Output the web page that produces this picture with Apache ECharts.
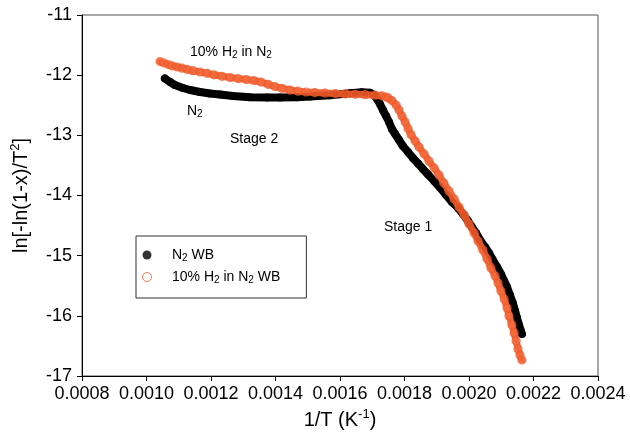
<!DOCTYPE html>
<html><head><meta charset="utf-8">
<script src="https://cdn.jsdelivr.net/npm/echarts@6/dist/echarts.min.js"></script>
<style>html,body{margin:0;padding:0;background:#fff}#c{width:630px;height:439px}</style>
</head><body><div id="c"></div>
<script>
// ---- data ----
const seriesNames = ['N2 WB', '10% H2 in N2 WB'];
const xTickLabels = ['0.0008','0.0010','0.0012','0.0014','0.0016','0.0018','0.0020','0.0022','0.0024'];
const yTickLabels = ['-17','-16','-15','-14','-13','-12','-11'];
const annotations = ['10% H{sub|2} in N{sub|2}', 'N{sub|2}', 'Stage 2', 'Stage 1'];

const n2X = [0.001057,0.001073,0.001088,0.001113,0.001135,0.001166,0.001197,0.001228,0.001268,0.001321,
  0.001374,0.001414,0.001467,0.001507,0.001569,0.001631,0.001668,0.001693,0.001705,0.001715,
  0.001724,0.001733,0.001743,0.001752,0.001761,0.001771,0.001783,0.001795,0.001811,0.001826,
  0.001842,0.001857,0.001873,0.001892,0.001910,0.001929,0.001947,0.001966,0.001981,0.001997,
  0.002009,0.002022,0.002034,0.002050,0.002062,0.002074,0.002087,0.002099,0.002109,0.002118,
  0.002127,0.002136,0.002143,0.002149,0.002155,0.002161,0.002164];
const n2Y = [-12.055,-12.114,-12.163,-12.213,-12.247,-12.280,-12.305,-12.321,-12.346,-12.366,
  -12.373,-12.373,-12.366,-12.356,-12.333,-12.301,-12.285,-12.293,-12.330,-12.396,
  -12.479,-12.579,-12.679,-12.778,-12.895,-12.978,-13.077,-13.177,-13.277,-13.377,
  -13.468,-13.559,-13.651,-13.759,-13.867,-13.992,-14.108,-14.208,-14.307,-14.424,
  -14.523,-14.623,-14.739,-14.856,-14.955,-15.072,-15.188,-15.304,-15.421,-15.521,
  -15.654,-15.787,-15.920,-16.036,-16.152,-16.252,-16.302];

const h2X = [0.001042,0.001054,0.001067,0.001079,0.001095,0.001110,0.001126,0.001144,0.001166,0.001188,
  0.001209,0.001234,0.001259,0.001284,0.001309,0.001333,0.001355,0.001377,0.001398,0.001420,
  0.001445,0.001470,0.001495,0.001522,0.001553,0.001585,0.001616,0.001647,0.001678,0.001709,
  0.001730,0.001743,0.001749,0.001761,0.001774,0.001783,0.001792,0.001802,0.001811,0.001820,
  0.001833,0.001845,0.001861,0.001876,0.001892,0.001907,0.001922,0.001938,0.001954,0.001969,
  0.001985,0.002000,0.002016,0.002028,0.002043,0.002056,0.002068,0.002081,0.002090,0.002099,
  0.002109,0.002118,0.002124,0.002133,0.002140,0.002146,0.002152,0.002158,0.002164];
const h2Y = [-11.773,-11.798,-11.823,-11.844,-11.864,-11.884,-11.904,-11.926,-11.947,-11.969,
  -11.994,-12.019,-12.039,-12.057,-12.072,-12.089,-12.114,-12.152,-12.188,-12.218,
  -12.247,-12.266,-12.280,-12.290,-12.298,-12.305,-12.311,-12.318,-12.325,-12.333,
  -12.343,-12.363,-12.376,-12.421,-12.496,-12.579,-12.679,-12.778,-12.886,-12.986,
  -13.094,-13.194,-13.310,-13.427,-13.543,-13.659,-13.792,-13.925,-14.058,-14.191,
  -14.324,-14.474,-14.623,-14.756,-14.906,-15.055,-15.205,-15.338,-15.454,-15.587,
  -15.720,-15.870,-16.003,-16.152,-16.285,-16.418,-16.551,-16.651,-16.734];

// ---- chart ----
const FONT = "'Liberation Sans', Arial, Helvetica, sans-serif";
const ORANGE = '#F15A29';
const pairs = (xs, ys) => xs.map((x, i) => [x, ys[i]]);
const n2Data = pairs(n2X, n2Y);
const h2Data = pairs(h2X, h2Y);
const toRich = s => s.replace(/H2/g, 'H{sub|2}').replace(/N2/g, 'N{sub|2}');
const subRich = { sub: { fontSize: 10, lineHeight: 8, verticalAlign: 'bottom', fontFamily: FONT, color: '#000' } };
const supRich = { sup: { fontSize: 13, lineHeight: 13, verticalAlign: 'top', fontFamily: FONT, color: '#000' } };

const chart = echarts.init(document.getElementById('c'), null, { renderer: 'canvas' });
const option = {
  animation: false,
  backgroundColor: '#fff',
  textStyle: { fontFamily: FONT },
  grid: { left: 82, right: 32, top: 15, bottom: 63, show: true, borderColor: '#555', borderWidth: 1 },
  xAxis: {
    type: 'value', min: 0.0008, max: 0.0024, interval: 0.0002,
    name: '1/T (K{sup|-1})', nameLocation: 'middle', nameGap: 32,
    nameTextStyle: { fontSize: 20, color: '#000', fontFamily: FONT, lineHeight: 24, rich: supRich },
    axisLine: { show: true, lineStyle: { color: '#000', width: 1 } },
    axisTick: { show: true, inside: false, length: 5, lineStyle: { color: '#000' } },
    axisLabel: { fontSize: 18, color: '#000', fontFamily: FONT, margin: 9,
      formatter: v => xTickLabels[Math.round((v - 0.0008) / 0.0002)] },
    splitLine: { show: false }
  },
  yAxis: {
    type: 'value', min: -17, max: -11, interval: 1,
    name: 'ln[-ln(1-x)/T{sup|2}]', nameLocation: 'middle', nameGap: 49, nameRotate: 90,
    nameTextStyle: { fontSize: 20, color: '#000', fontFamily: FONT, lineHeight: 24, rich: supRich },
    axisLine: { show: true, lineStyle: { color: '#000', width: 1 } },
    axisTick: { show: true, inside: false, length: 5, lineStyle: { color: '#000' } },
    axisLabel: { fontSize: 18, color: '#000', fontFamily: FONT, margin: 10,
      formatter: v => yTickLabels[Math.round(v + 17)] },
    splitLine: { show: false }
  },
  legend: {
    orient: 'vertical', left: 136, top: 236, padding: [11, 26, 13, 6],
    itemWidth: 40, itemHeight: 9, itemGap: 6,
    borderColor: '#333', borderWidth: 1, backgroundColor: '#fff',
    textStyle: { fontSize: 14, color: '#000', fontFamily: FONT, lineHeight: 16, rich: subRich },
    formatter: name => toRich(name),
    data: [
      { name: seriesNames[0], icon: 'circle', itemStyle: { color: '#000', borderWidth: 0 } },
      { name: seriesNames[1], icon: 'circle', itemStyle: { color: 'rgba(255,255,255,0)', borderColor: ORANGE, borderWidth: 1 } }
    ]
  },
  series: [
    { name: 'n2band', type: 'line', data: n2Data, showSymbol: false, silent: true, z: 2,
      lineStyle: { color: '#000', width: 8, cap: 'round', join: 'round' } },
    { name: seriesNames[0], type: 'scatter', data: n2Data, symbol: 'circle', symbolSize: 8, z: 3,
      itemStyle: { color: '#000' } },
    { name: 'h2band', type: 'line', data: h2Data, showSymbol: false, silent: true, z: 4,
      lineStyle: { color: ORANGE, width: 7, opacity: 0.9, cap: 'round', join: 'round' } },
    { name: seriesNames[1], type: 'scatter', data: h2Data, symbol: 'circle', symbolSize: 8, z: 5,
      itemStyle: { color: 'rgba(255,255,255,0)', borderColor: ORANGE, borderWidth: 1.2 } }
  ],
  graphic: [
    { type: 'text', left: 190, top: 44, z: 10, style: { text: annotations[0], fontSize: 14, lineHeight: 16, fontFamily: FONT, fill: '#000', rich: subRich } },
    { type: 'text', left: 187, top: 103, z: 10, style: { text: annotations[1], fontSize: 14, lineHeight: 16, fontFamily: FONT, fill: '#000', rich: subRich } },
    { type: 'text', left: 230, top: 132, z: 10, style: { text: annotations[2], fontSize: 14, fontFamily: FONT, fill: '#000' } },
    { type: 'text', left: 384, top: 220, z: 10, style: { text: annotations[3], fontSize: 14, fontFamily: FONT, fill: '#000' } }
  ]
};
chart.setOption(option);
</script>
</body></html>
